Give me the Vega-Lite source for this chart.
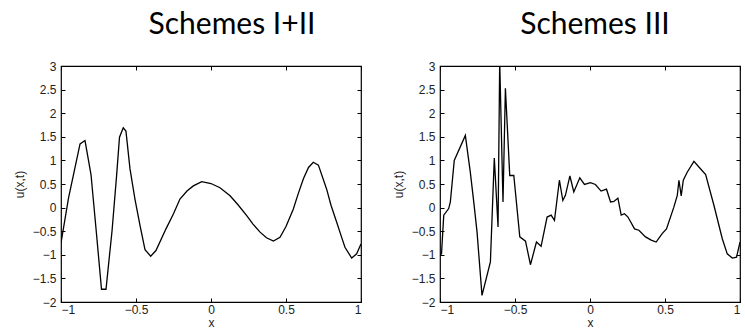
{
  "$schema": "https://vega.github.io/schema/vega-lite/v6.json",
  "padding": {"left": 12, "top": 9, "right": 0, "bottom": 0},
  "spacing": 28,
  "config": {
    "view": {"stroke": "black", "strokeWidth": 1.2},
    "axis": {
      "domain": false,
      "grid": false,
      "ticks": true,
      "tickSize": -4,
      "tickColor": "black",
      "tickWidth": 1,
      "labelFont": "Liberation Sans",
      "labelFontSize": 12,
      "labelColor": "#222222",
      "titleFont": "Liberation Sans",
      "titleFontSize": 12,
      "titleFontWeight": "normal",
      "titleColor": "#222222",
      "format": "~g"
    },
    "title": {"font": "Lato", "fontSize": 30, "fontWeight": "normal", "color": "black", "anchor": "middle"}
  },
  "datasets": {
    "s12": [
      {"x": -1, "u": -0.75}, {"x": -0.95, "u": 0.2}, {"x": -0.9, "u": 0.95}, {"x": -0.873, "u": 1.35},
      {"x": -0.84, "u": 1.42}, {"x": -0.8, "u": 0.7}, {"x": -0.765, "u": -0.5}, {"x": -0.73, "u": -1.73},
      {"x": -0.7, "u": -1.73}, {"x": -0.66, "u": -0.5}, {"x": -0.63, "u": 0.65}, {"x": -0.61, "u": 1.49},
      {"x": -0.585, "u": 1.69}, {"x": -0.567, "u": 1.62}, {"x": -0.54, "u": 0.82}, {"x": -0.507, "u": 0.18},
      {"x": -0.473, "u": -0.38}, {"x": -0.44, "u": -0.89}, {"x": -0.402, "u": -1.03}, {"x": -0.367, "u": -0.91},
      {"x": -0.3, "u": -0.45}, {"x": -0.25, "u": -0.13}, {"x": -0.207, "u": 0.18}, {"x": -0.16, "u": 0.35},
      {"x": -0.118, "u": 0.46}, {"x": -0.062, "u": 0.55}, {"x": 0, "u": 0.51}, {"x": 0.06, "u": 0.42},
      {"x": 0.127, "u": 0.25}, {"x": 0.18, "u": 0.06}, {"x": 0.238, "u": -0.17}, {"x": 0.28, "u": -0.35},
      {"x": 0.327, "u": -0.52}, {"x": 0.37, "u": -0.64}, {"x": 0.416, "u": -0.71}, {"x": 0.46, "u": -0.63},
      {"x": 0.5, "u": -0.4}, {"x": 0.549, "u": -0.03}, {"x": 0.58, "u": 0.28}, {"x": 0.616, "u": 0.61},
      {"x": 0.65, "u": 0.85}, {"x": 0.682, "u": 0.96}, {"x": 0.716, "u": 0.9}, {"x": 0.771, "u": 0.39},
      {"x": 0.8, "u": 0.05}, {"x": 0.838, "u": -0.31}, {"x": 0.87, "u": -0.62}, {"x": 0.893, "u": -0.84},
      {"x": 0.938, "u": -1.07}, {"x": 0.971, "u": -0.98}, {"x": 1, "u": -0.77}
    ],
    "s3": [
      {"x": -1, "u": -1.0}, {"x": -0.99, "u": -0.98}, {"x": -0.975, "u": -0.16}, {"x": -0.942, "u": -0.02},
      {"x": -0.931, "u": 0.12}, {"x": -0.905, "u": 1.0}, {"x": -0.831, "u": 1.53}, {"x": -0.798, "u": 0.75},
      {"x": -0.775, "u": 0.12}, {"x": -0.753, "u": -0.52}, {"x": -0.72, "u": -1.86}, {"x": -0.664, "u": -1.15},
      {"x": -0.638, "u": 1.05}, {"x": -0.613, "u": -0.41}, {"x": -0.602, "u": 3.1}, {"x": -0.58, "u": 0.12},
      {"x": -0.564, "u": 2.53}, {"x": -0.535, "u": 0.68}, {"x": -0.508, "u": 0.68}, {"x": -0.468, "u": -0.62},
      {"x": -0.43, "u": -0.71}, {"x": -0.397, "u": -1.21}, {"x": -0.357, "u": -0.73}, {"x": -0.326, "u": -0.82},
      {"x": -0.286, "u": -0.2}, {"x": -0.259, "u": -0.16}, {"x": -0.237, "u": -0.27}, {"x": -0.204, "u": 0.58},
      {"x": -0.181, "u": 0.15}, {"x": -0.164, "u": 0.26}, {"x": -0.134, "u": 0.67}, {"x": -0.108, "u": 0.33},
      {"x": -0.068, "u": 0.63}, {"x": -0.037, "u": 0.49}, {"x": 0.003, "u": 0.53}, {"x": 0.036, "u": 0.49},
      {"x": 0.074, "u": 0.35}, {"x": 0.11, "u": 0.39}, {"x": 0.137, "u": 0.12}, {"x": 0.159, "u": 0.13},
      {"x": 0.186, "u": 0.2}, {"x": 0.208, "u": -0.16}, {"x": 0.23, "u": -0.13}, {"x": 0.253, "u": -0.2},
      {"x": 0.297, "u": -0.45}, {"x": 0.326, "u": -0.48}, {"x": 0.37, "u": -0.62}, {"x": 0.408, "u": -0.69},
      {"x": 0.441, "u": -0.73}, {"x": 0.481, "u": -0.55}, {"x": 0.51, "u": -0.45}, {"x": 0.559, "u": 0.01},
      {"x": 0.582, "u": 0.26}, {"x": 0.593, "u": 0.58}, {"x": 0.608, "u": 0.25}, {"x": 0.622, "u": 0.58},
      {"x": 0.648, "u": 0.75}, {"x": 0.693, "u": 0.98}, {"x": 0.726, "u": 0.86}, {"x": 0.771, "u": 0.7},
      {"x": 0.826, "u": 0.05}, {"x": 0.882, "u": -0.66}, {"x": 0.915, "u": -0.98}, {"x": 0.949, "u": -1.07},
      {"x": 0.977, "u": -1.05}, {"x": 1, "u": -0.73}
    ]
  },
  "hconcat": [
    {
      "width": 300,
      "height": 236,
      "title": {"text": "Schemes I+II", "dx": 21, "offset": 20},
      "data": {"name": "s12"},
      "resolve": {"axis": {"x": "independent", "y": "independent"}},
      "layer": [
        {
          "mark": {"type": "line", "color": "black", "strokeWidth": 1.3, "clip": true},
          "encoding": {
            "x": {"field": "x", "type": "quantitative", "scale": {"domain": [-1, 1], "nice": false, "zero": false},
                  "axis": {"orient": "bottom", "values": [-1, -0.5, 0, 0.5, 1], "title": "x", "labelPadding": 6, "titlePadding": 2}},
            "y": {"field": "u", "type": "quantitative", "scale": {"domain": [-2, 3], "nice": false, "zero": false},
                  "axis": {"orient": "left", "values": [-2, -1.5, -1, -0.5, 0, 0.5, 1, 1.5, 2, 2.5, 3], "title": "u(x,t)", "labelPadding": 9, "titlePadding": 6}}
          }
        },
        {
          "mark": {"type": "line", "opacity": 0},
          "encoding": {
            "x": {"field": "x", "type": "quantitative", "axis": {"orient": "top", "values": [-1, -0.5, 0, 0.5, 1], "labels": false, "title": null}},
            "y": {"field": "u", "type": "quantitative", "axis": {"orient": "right", "values": [-2, -1.5, -1, -0.5, 0, 0.5, 1, 1.5, 2, 2.5, 3], "labels": false, "title": null}}
          }
        }
      ]
    },
    {
      "width": 300,
      "height": 236,
      "title": {"text": "Schemes III", "dx": 5, "offset": 20},
      "data": {"name": "s3"},
      "resolve": {"axis": {"x": "independent", "y": "independent"}},
      "layer": [
        {
          "mark": {"type": "line", "color": "black", "strokeWidth": 1.3, "clip": true},
          "encoding": {
            "x": {"field": "x", "type": "quantitative", "scale": {"domain": [-1, 1], "nice": false, "zero": false},
                  "axis": {"orient": "bottom", "values": [-1, -0.5, 0, 0.5, 1], "title": "x", "labelPadding": 6, "titlePadding": 2}},
            "y": {"field": "u", "type": "quantitative", "scale": {"domain": [-2, 3], "nice": false, "zero": false},
                  "axis": {"orient": "left", "values": [-2, -1.5, -1, -0.5, 0, 0.5, 1, 1.5, 2, 2.5, 3], "title": "u(x,t)", "labelPadding": 9, "titlePadding": 6}}
          }
        },
        {
          "mark": {"type": "line", "opacity": 0},
          "encoding": {
            "x": {"field": "x", "type": "quantitative", "axis": {"orient": "top", "values": [-1, -0.5, 0, 0.5, 1], "labels": false, "title": null}},
            "y": {"field": "u", "type": "quantitative", "axis": {"orient": "right", "values": [-2, -1.5, -1, -0.5, 0, 0.5, 1, 1.5, 2, 2.5, 3], "labels": false, "title": null}}
          }
        }
      ]
    }
  ]
}
